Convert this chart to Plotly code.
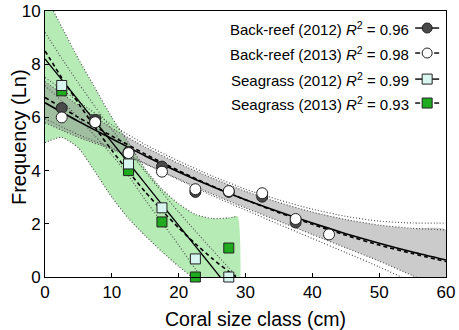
import plotly.graph_objects as go

# ---------------- data ----------------
size_x = [2.5, 7.5, 12.5, 17.5, 22.5, 27.5, 32.5, 37.5, 42.5]
backreef_2012 = [6.35, 5.9, 4.7, 4.15, 3.2, 3.2, 3.02, 2.05, None]
backreef_2013 = [6.0, 5.82, 4.66, 3.96, 3.3, 3.23, 3.15, 2.18, 1.6]

seagrass_x = [2.5, 7.5, 12.5, 17.5, 22.5, 27.5]
seagrass_2012 = [7.2, 5.9, 4.25, 2.6, 0.68, 0.0]
seagrass_2013 = [7.0, 5.85, 4.0, 2.07, 0.0, 1.09]

# fitted curves and confidence bands
fit_x_br = [0, 5, 10, 15, 20, 25, 30, 35, 40, 45, 50, 55, 60]
fit_br_2012 = [6.55, 5.85, 5.2, 4.55, 3.95, 3.4, 2.9, 2.45, 2.03, 1.63, 1.27, 0.94, 0.64]
fit_br_2013 = [6.75, 6.0, 5.3, 4.62, 4.0, 3.42, 2.9, 2.42, 1.98, 1.57, 1.2, 0.88, 0.58]
ci_br_2012_up = [7.35, 6.45, 5.6, 4.88, 4.27, 3.72, 3.22, 2.8, 2.44, 2.16, 1.95, 1.83, 1.77]
ci_br_2012_lo = [5.8, 5.25, 4.8, 4.25, 3.68, 3.12, 2.6, 2.1, 1.6, 1.1, 0.6, 0.05, -0.5]
ci_br_2013_up = [7.5, 6.6, 5.72, 4.98, 4.36, 3.8, 3.3, 2.9, 2.55, 2.28, 2.1, 2.03, 2.03]
ci_br_2013_lo = [5.95, 5.35, 4.85, 4.27, 3.66, 3.06, 2.52, 1.98, 1.45, 0.92, 0.38, -0.2, -0.8]

fit_x_sg = [0, 2.5, 5, 7.5, 10, 12.5, 15, 17.5, 20, 22.5, 25, 27.5, 28.8]
fit_sg_2012 = [8.2, 7.42, 6.64, 5.85, 5.07, 4.29, 3.51, 2.72, 1.94, 1.16, 0.38, -0.41, -0.81]
fit_sg_2013 = [8.5, 7.49, 6.53, 5.62, 4.76, 3.96, 3.2, 2.5, 1.85, 1.25, 0.7, 0.2, -0.03]
ci_sg_2012_up = [9.2, 8.22, 7.29, 6.4, 5.55, 4.74, 3.96, 3.19, 2.44, 1.73, 1.03, 0.34, -0.01]
ci_sg_2012_lo = [7.2, 6.62, 5.99, 5.3, 4.59, 3.8, 2.9, 2.05, 1.2, 0.3, -0.55, -1.3, -1.7]
ci_sg_2013_up = [10.6, 9.4, 8.2, 7.1, 6.0, 5.05, 4.05, 3.3, 2.75, 2.35, 2.2, 2.22, 2.28]
ci_sg_2013_lo = [5.05, 5.25, 4.85, 3.95, 3.0, 2.2, 1.55, 0.95, 0.4, -0.1, -0.6, -1.1, -1.4]

x_ticks = [0, 10, 20, 30, 40, 50, 60]
y_ticks = [0, 2, 4, 6, 8, 10]

x_title = "Coral size class (cm)"
y_title = "Frequency (Ln)"
legend_labels = [
    "Back-reef (2012) <i>R</i><sup>2</sup> = 0.96",
    "Back-reef (2013) <i>R</i><sup>2</sup> = 0.98",
    "Seagrass (2012) <i>R</i><sup>2</sup> = 0.99",
    "Seagrass (2013) <i>R</i><sup>2</sup> = 0.93",
]

# ---------------- styles ----------------
FONT = "Liberation Sans, Arial, sans-serif"
GREEN_FILL = "rgba(110,215,110,0.5)"
GREY_FILL = "rgba(130,130,130,0.42)"
DOT_COL = "#555555"
COL_BR12 = "#4a4a4a"
COL_BR13 = "#ffffff"
COL_SG12 = "#d8f6ef"
COL_SG13 = "#1faa1f"

fig = go.Figure()


def band(x, up, lo, fill):
    fig.add_trace(go.Scatter(
        x=list(x) + list(x)[::-1], y=list(up) + list(lo)[::-1],
        fill="toself", fillcolor=fill, mode="lines",
        line=dict(width=0, shape="spline", smoothing=0.6),
        hoverinfo="skip", showlegend=False))


def curve(x, y, dash, width=1.4, color="black"):
    fig.add_trace(go.Scatter(
        x=x, y=y, mode="lines",
        line=dict(color=color, width=width, dash=dash, shape="spline", smoothing=0.6),
        hoverinfo="skip", showlegend=False))


# bands
band(fit_x_sg, ci_sg_2013_up, ci_sg_2013_lo, GREEN_FILL)
band(fit_x_br, ci_br_2012_up, ci_br_2012_lo, GREY_FILL)

# dotted band edges
for up, lo in [(ci_sg_2013_up, ci_sg_2013_lo), (ci_sg_2012_up, ci_sg_2012_lo)]:
    curve(fit_x_sg, up, "1px,2px", 1.2, DOT_COL)
    curve(fit_x_sg, lo, "1px,2px", 1.2, DOT_COL)
for up, lo in [(ci_br_2012_up, ci_br_2012_lo), (ci_br_2013_up, ci_br_2013_lo)]:
    curve(fit_x_br, up, "1px,2px", 1.2, DOT_COL)
    curve(fit_x_br, lo, "1px,2px", 1.2, DOT_COL)

# fits
curve(fit_x_sg, fit_sg_2012, "solid", 1.3)
curve(fit_x_sg, fit_sg_2013, "4px,3px", 1.6)
curve(fit_x_br, fit_br_2012, "solid", 1.6)
curve(fit_x_br, fit_br_2013, "4px,3px", 1.6)

# points
def points(x, y, symbol, color, size):
    fig.add_trace(go.Scatter(
        x=x, y=y, mode="markers", cliponaxis=False,
        marker=dict(symbol=symbol, size=size, color=color,
                    line=dict(color="#222222", width=1)),
        showlegend=False))


points(seagrass_x, seagrass_2013, "square", COL_SG13, 10)
points(seagrass_x, seagrass_2012, "square", COL_SG12, 10)
points(size_x, backreef_2012, "circle", COL_BR12, 11)
points(size_x, backreef_2013, "circle", COL_BR13, 11)

# ---------------- custom legend (text left, symbol right) ----------------
row_y = [0.936, 0.842, 0.744, 0.654]
sym_x = 0.953
shapes = []
annotations = []
styles = [("circle", COL_BR12, "solid"), ("circle", COL_BR13, "dash"),
          ("rect", COL_SG12, "solid"), ("rect", COL_SG13, "dash")]
for label, yy, (kind, col, ls) in zip(legend_labels, row_y, styles):
    annotations.append(dict(x=0.912, y=yy, xref="paper", yref="paper",
                            xanchor="right", yanchor="middle", showarrow=False,
                            text=label, font=dict(family=FONT, size=15, color="black")))
    if ls == "solid":
        segs = [(-12, 12)]
    else:
        segs = [(-12, -7), (7, 12)]
    for a, b in segs:
        shapes.append(dict(type="line", xref="paper", yref="paper",
                           xsizemode="pixel", ysizemode="pixel",
                           xanchor=sym_x, yanchor=yy, x0=a, x1=b, y0=0, y1=0,
                           line=dict(color="black", width=1.4)))
    r = 5
    shapes.append(dict(type=kind, xref="paper", yref="paper",
                       xsizemode="pixel", ysizemode="pixel",
                       xanchor=sym_x, yanchor=yy, x0=-r, x1=r, y0=-r, y1=r,
                       fillcolor=col, line=dict(color="#222222", width=1)))

# axis titles as annotations (placed as in the reference)
annotations.append(dict(x=0.526, y=-0.158, xref="paper", yref="paper",
                        xanchor="center", yanchor="middle", showarrow=False,
                        text=x_title, font=dict(family=FONT, size=19.5, color="black")))
annotations.append(dict(x=-0.065, y=0.526, xref="paper", yref="paper",
                        xanchor="center", yanchor="middle", showarrow=False,
                        textangle=-90,
                        text=y_title, font=dict(family=FONT, size=20, color="black")))

fig.update_layout(
    width=459, height=330,
    margin=dict(l=45, r=13, t=11, b=53, autoexpand=False),
    paper_bgcolor="white", plot_bgcolor="white",
    font=dict(family=FONT, size=17, color="black"),
    shapes=shapes, annotations=annotations, showlegend=False,
    xaxis=dict(range=[0, 60], tickvals=x_ticks, ticks="inside", ticklen=4,
               tickcolor="black", showline=True, linecolor="black", linewidth=1,
               mirror=True, showgrid=False, zeroline=False, automargin=False,
               tickfont=dict(size=17)),
    yaxis=dict(range=[0, 10], tickvals=y_ticks, ticks="inside", ticklen=4,
               tickcolor="black", showline=True, linecolor="black", linewidth=1,
               mirror=True, showgrid=False, zeroline=False, automargin=False,
               tickfont=dict(size=17)),
)

fig.write_html("out.html", config={"displayModeBar": False},
               post_script="document.body.style.margin='0';document.body.style.overflow='hidden';")
